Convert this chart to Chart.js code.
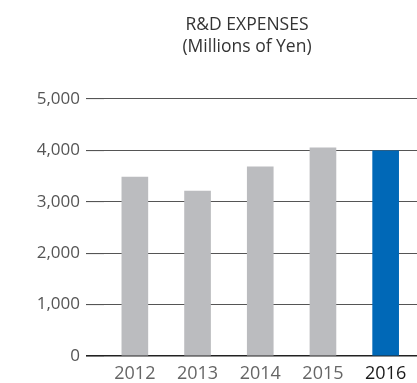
<!DOCTYPE html>
<html>
<head>
<meta charset="utf-8">
<script src="https://cdn.jsdelivr.net/npm/chart.js@4/dist/chart.umd.min.js"></script>
<style>
html,body{margin:0;padding:0;background:#fff;}
#wrap{width:417px;height:383px;position:relative;}
</style>
</head>
<body>
<div id="wrap"><canvas id="c"></canvas></div>
<script>
const categories = ['2012', '2013', '2014', '2015', '2016'];
const expenses = [3480, 3210, 3680, 4050, 3990];
const yTickValues = [0, 1000, 2000, 3000, 4000, 5000];
const yTickLabels = ['0', '1,000', '2,000', '3,000', '4,000', '5,000'];
const titleLines = ['R&D EXPENSES', '(Millions of Yen)'];

const FONT = "'Open Sans', 'Noto Sans', sans-serif";
const GRAY = '#bbbcbf';
const BLUE = '#0068b7';

const titlePlugin = {
  id: 'customTitle',
  afterDraw(chart) {
    const ctx = chart.ctx;
    ctx.save();
    ctx.fillStyle = '#333';
    ctx.font = "17.5px " + FONT;
    ctx.textAlign = 'center';
    ctx.textBaseline = 'middle';
    titleLines.forEach((t, i) => ctx.fillText(t, 247, 25 + i * 22));
    ctx.restore();
  }
};

new Chart(document.getElementById('c'), {
  type: 'bar',
  data: {
    labels: categories,
    datasets: [{
      data: expenses,
      backgroundColor: ctx => ctx.dataIndex === categories.length - 1 ? BLUE : GRAY,
      barThickness: 26,
      borderWidth: 0
    }]
  },
  options: {
    responsive: true,
    maintainAspectRatio: false,
    animation: false,
    devicePixelRatio: 1,
    layout: { padding: { top: 99, left: 33, right: 0, bottom: 0 } },
    plugins: { legend: { display: false }, tooltip: { enabled: false }, title: { display: false } },
    scales: {
      x: {
        grid: { display: false, drawTicks: false },
        border: { display: false },
        afterFit: scale => { scale.height = 27; },
        ticks: {
          padding: 7.5,
          font: { family: FONT, size: 18 },
          color: ctx => ctx.index === categories.length - 1 ? '#1a1a1a' : '#666'
        }
      },
      y: {
        min: 0,
        max: 5000,
        afterBuildTicks: scale => { scale.ticks = yTickValues.map(v => ({ value: v })); },
        afterFit: scale => { scale.width = 70.5; },
        grid: {
          color: ctx => ctx.tick && ctx.tick.value === 0 ? '#222' : '#555',
          lineWidth: ctx => ctx.tick && ctx.tick.value === 0 ? 1.6 : 1.1,
          tickLength: 17.5,
          drawTicks: true
        },
        border: { display: false },
        ticks: {
          padding: 6,
          font: { family: FONT, size: 17 },
          color: '#555',
          callback: (v) => yTickLabels[yTickValues.indexOf(v)]
        }
      }
    }
  },
  plugins: [titlePlugin]
});
</script>
</body>
</html>
